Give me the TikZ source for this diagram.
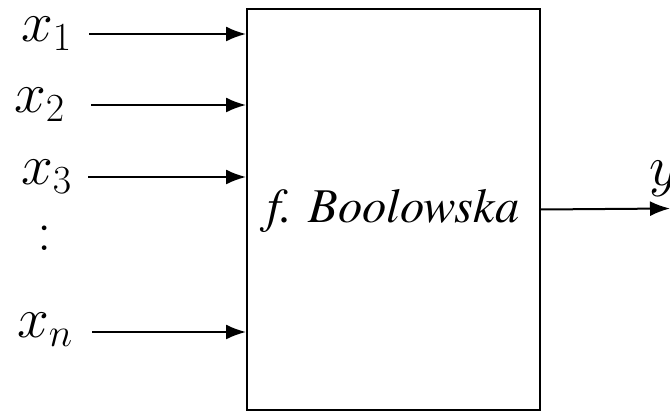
\RequirePackage{fix-cm}
\documentclass[tikz,border=0pt]{standalone}
\usepackage{fontspec}
\newfontfamily\blockfont{texgyretermes}[Extension=.otf, UprightFont=*-regular, ItalicFont=*-italic]
\usetikzlibrary{arrows.meta}
\tikzset{
  blockbox/.style={draw, line width=2pt, inner sep=0pt, anchor=north west},
  sig/.style={line width=2pt, -{Latex[length=20pt,width=15pt]}},
  var/.style={inner sep=0pt, font=\fontsize{57}{66}\selectfont},
  fname/.style={inner sep=0pt, font=\blockfont\fontsize{48.5}{56}\selectfont\itshape}
}
\begin{document}
\begin{tikzpicture}[x=1pt,y=-1pt]
\useasboundingbox (0,0) rectangle (670,411);
% the function block
\node[blockbox, minimum width=293pt, minimum height=401pt] (box) at (246,8) {};
\node[fname] (fn) at ([yshift=-1pt]box.center) {f. Boolowska};
% input variables
\node[var, anchor=base west] (lx1) at (21,42) {$x_1$};
\node[var, anchor=base west] (lx2) at (14,113) {$x_2$};
\node[var, anchor=base west] (lx3) at (21,185) {$x_3$};
\node[var] (ldots) at (45,238) {$:$};
\node[var, anchor=base west] (lxn) at (17,338) {$x_n$};
\coordinate (in1) at (89,34);
\coordinate (in2) at (91,105);
\coordinate (in3) at (88,177);
\coordinate (inn) at (92,332);
\draw[sig] (in1) -- (in1 -| box.west);
\draw[sig] (in2) -- (in2 -| box.west);
\draw[sig] (in3) -- (in3 -| box.west);
\draw[sig] (inn) -- (inn -| box.west);
% output
\coordinate (out) at (670,208.5);
\draw[sig] (box.east) -- (out);
\node[var, anchor=base west] (ly) at (649,186) {$y$};
\end{tikzpicture}
\end{document}
